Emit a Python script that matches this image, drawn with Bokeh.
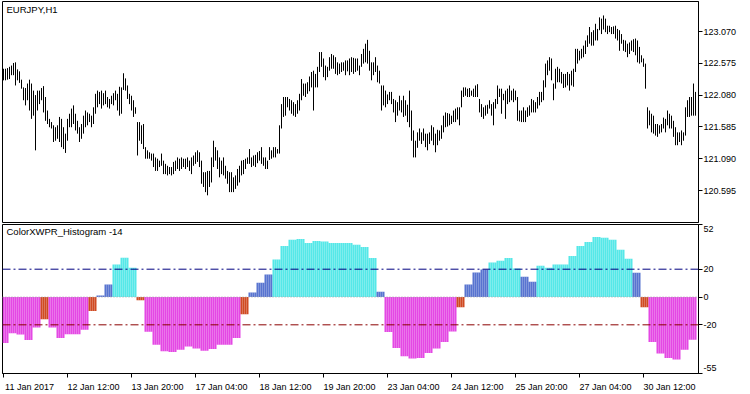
import numpy as np
from bokeh.plotting import figure
from bokeh.layouts import column
from bokeh.models import ColumnDataSource, FixedTicker, Span, Label, Range1d, PrintfTickFormatter
from bokeh.embed import file_html
from bokeh.resources import INLINE

# ---------------- data ----------------
price_high = [
    122.49,122.49,122.50,122.52,122.54,122.58,122.59,122.48,122.45,122.32,
    122.20,122.19,122.26,122.32,122.26,122.15,122.08,122.15,122.15,122.19,
    122.22,122.05,121.84,121.71,121.66,121.61,121.58,121.61,121.74,121.71,
    121.58,121.48,121.71,121.79,121.87,121.92,121.79,121.68,121.58,121.63,
    121.76,121.84,121.81,121.79,121.76,121.89,122.10,122.15,122.13,122.15,
    122.11,122.15,122.05,122.02,122.07,122.11,122.15,122.10,122.21,122.20,
    122.42,122.34,122.23,122.10,122.07,122.00,121.89,121.66,121.66,121.61,
    121.63,121.27,121.22,121.19,121.17,121.17,121.11,121.09,121.06,121.17,
    121.06,121.01,120.98,120.96,120.96,121.04,121.06,121.11,121.09,121.11,
    121.09,121.09,121.11,121.06,121.11,121.14,121.19,121.22,121.19,121.06,
    120.88,120.88,120.90,120.90,121.11,121.37,121.27,121.22,121.11,121.06,
    121.11,120.98,120.90,120.88,120.88,120.80,120.83,120.93,120.98,121.06,
    121.07,121.09,121.11,121.24,121.11,121.14,121.15,121.19,121.21,121.27,
    121.11,121.11,121.06,121.27,121.22,121.27,121.27,121.24,121.61,121.94,
    122.05,122.05,122.05,122.02,122.00,121.97,121.94,122.00,122.10,122.33,
    122.26,122.26,122.28,122.37,122.44,122.46,122.41,122.52,122.75,122.75,
    122.65,122.54,122.52,122.67,122.72,122.70,122.67,122.59,122.57,122.59,
    122.59,122.62,122.62,122.65,122.67,122.66,122.65,122.65,122.54,122.72,
    122.80,122.88,122.94,122.77,122.59,122.59,122.67,122.54,122.46,122.23,
    122.23,122.15,122.09,122.13,122.13,122.02,122.00,121.97,122.07,122.00,
    122.07,122.00,121.93,122.15,121.84,121.53,121.37,121.50,121.56,121.50,
    121.56,121.48,121.48,121.50,121.61,121.58,121.48,121.54,121.53,121.61,
    121.76,121.81,121.80,121.79,121.76,121.84,121.87,121.89,121.89,122.15,
    122.20,122.20,122.18,122.19,122.15,122.18,122.23,122.25,122.02,121.94,
    121.89,121.92,121.93,122.00,121.94,121.97,122.02,122.23,122.18,122.18,
    122.10,122.15,122.18,122.23,122.15,122.18,122.15,122.05,121.84,121.84,
    121.89,121.84,121.89,121.92,122.02,122.00,121.97,122.05,122.13,122.13,
    122.31,122.57,122.62,122.67,122.65,122.26,122.49,122.52,122.49,122.44,
    122.41,122.41,122.44,122.41,122.46,122.49,122.80,122.80,122.77,122.80,
    122.85,122.93,123.01,123.14,123.06,123.09,123.19,123.11,123.29,123.27,
    123.32,123.27,123.16,123.16,123.14,123.15,123.16,123.11,123.09,123.03,
    122.94,122.93,122.88,122.90,122.93,122.95,122.96,122.93,122.83,122.70,
    122.65,122.57,121.89,121.84,121.79,121.76,121.63,121.63,121.61,121.63,
    121.73,121.71,121.84,121.79,121.76,121.68,121.58,121.50,121.50,121.53,
    121.50,121.89,122.00,122.05,122.05,122.26,122.13,
]
price_low = [
    122.31,122.31,122.32,122.33,122.39,122.39,122.23,122.31,122.27,122.18,
    122.00,121.92,122.00,121.84,121.71,121.76,121.22,121.84,121.94,122.00,
    121.81,121.68,121.63,121.58,121.56,121.35,121.37,121.40,121.35,121.27,
    121.24,121.18,121.37,121.58,121.58,121.63,121.53,121.48,121.35,121.40,
    121.48,121.58,121.61,121.66,121.58,121.63,121.79,121.89,121.94,121.87,
    121.92,121.94,121.89,121.87,121.94,121.92,122.00,121.84,121.76,121.79,
    122.16,122.15,122.02,121.94,121.84,121.74,121.79,121.14,121.37,121.32,
    121.24,121.09,121.09,121.09,121.06,120.96,120.90,120.90,120.96,120.98,
    120.85,120.85,120.83,120.85,120.83,120.85,120.90,120.93,120.90,120.93,
    120.96,120.93,120.96,120.90,120.85,120.98,121.01,121.04,120.96,120.70,
    120.65,120.57,120.52,120.65,120.72,120.96,121.06,120.93,120.80,120.85,
    120.83,120.78,120.70,120.57,120.57,120.57,120.62,120.67,120.72,120.83,
    120.85,120.93,121.01,121.01,120.96,120.98,120.96,121.02,121.06,121.01,
    120.98,120.93,120.93,121.07,121.09,121.11,121.11,121.17,121.17,121.56,
    121.74,121.76,121.89,121.84,121.79,121.76,121.74,121.79,121.84,122.00,
    122.07,122.05,122.10,122.14,122.20,121.84,122.20,122.20,122.44,122.52,
    122.36,122.31,122.36,122.46,122.49,122.49,122.41,122.39,122.41,122.44,
    122.46,122.39,122.45,122.39,122.44,122.41,122.44,122.46,122.39,122.52,
    122.57,122.59,122.57,122.46,122.31,122.39,122.44,122.28,122.26,121.84,
    121.92,121.89,121.94,122.00,121.94,121.81,121.66,121.76,121.84,121.81,
    121.74,121.76,121.66,121.58,121.37,121.11,121.11,121.26,121.37,121.32,
    121.37,121.27,121.22,121.32,121.37,121.30,121.19,121.30,121.37,121.40,
    121.50,121.58,121.59,121.61,121.63,121.66,121.66,121.70,121.61,121.89,
    122.05,122.07,122.05,122.05,122.07,122.05,122.05,122.05,121.81,121.74,
    121.71,121.76,121.79,121.87,121.76,121.61,121.87,121.94,122.05,121.79,
    122.00,121.71,121.94,121.97,122.00,121.97,122.00,121.68,121.67,121.66,
    121.66,121.66,121.74,121.76,121.81,121.81,121.81,121.87,121.92,121.97,
    122.00,122.20,122.39,122.46,122.31,122.00,122.18,122.28,122.28,122.26,
    122.19,122.20,122.23,122.15,122.23,122.21,122.44,122.57,122.62,122.65,
    122.67,122.72,122.83,122.88,122.85,122.85,122.93,122.93,123.09,123.03,
    123.10,123.06,123.03,123.06,123.03,123.03,122.96,122.93,122.77,122.88,
    122.77,122.75,122.67,122.72,122.77,122.75,122.70,122.59,122.57,122.59,
    122.52,122.18,121.56,121.61,121.50,121.48,121.45,121.43,121.48,121.50,
    121.56,121.50,121.61,121.56,121.56,121.43,121.30,121.30,121.35,121.30,
    121.37,121.45,121.74,121.74,121.76,121.76,121.76,
]
# ColorXWPR histogram value for each 4-hour block (first block is partial: 3 bars)
xwpr_blocks = [
    -33, -26, -27, -31, -22, -16, -22, -29.5, -26.7, -26.7,
    -23.6, -10, 1, 9, 23.3, 28.3, 21, -2.4, -25, -34.3,
    -39, -39.5, -37.9, -35.5, -37, -38.6, -37.4, -34.3, -34.3, -29.5,
    -12.4, 3.3, 10.2, 16.2, 26.9, 36.7, 41.2, 41.7, 38.8, 40.2,
    40, 38.8, 38.8, 38.8, 37.6, 36, 28.1, 3.8, -25.2, -36.7,
    -42.6, -44.3, -43.8, -40.2, -37.1, -32.4, -24.8, -7.4, 9, 17.6,
    19.8, 24.8, 26, 28.1, 20.5, 14.5, 11, 22.4, 21, 23.3,
    23.3, 29.5, 36.7, 39.5, 43.1, 42.6, 41.2, 34, 27.6, 17.4,
    -7.4, -32.4, -40.7, -43.8, -45, -37.9, -30.7,
]
price_ticks = [120.595, 121.090, 121.585, 122.080, 122.575, 123.070]
hist_ticks = [52, 20, 0, -20, -55]
hist_tick_labels = ["52", "20", "0", "-20", "-55"]
date_tick_bars = [0, 32, 64, 96, 128, 160, 192, 224, 256, 288, 320]
date_tick_labels = ["11 Jan 2017", "12 Jan 12:00", "13 Jan 20:00", "17 Jan 04:00",
                    "18 Jan 12:00", "19 Jan 20:00", "23 Jan 04:00", "24 Jan 12:00",
                    "25 Jan 20:00", "27 Jan 04:00", "30 Jan 12:00"]
upper_level = 20
lower_level = -20

n = len(price_high)
assert len(price_low) == n
bars = list(range(n))
hist = [xwpr_blocks[(i + 1) // 4] for i in bars]

C_UP2, C_UP1, C_DN1, C_DN2 = "#55E8E8", "#5874D0", "#D04A22", "#E448E4"
def col(v):
    if v > upper_level:
        return C_UP2
    if v > 0:
        return C_UP1
    if v > lower_level:
        return C_DN1
    return C_DN2
hist_colors = [col(v) for v in hist]

FONT = "Liberation Sans"

price_src = ColumnDataSource(dict(x=bars, high=price_high, low=price_low))
hist_src = ColumnDataSource(dict(x=bars, v=hist, color=hist_colors))

xr = Range1d(-0.5, n + 0.5)

# ---------------- price panel ----------------
p1 = figure(width=750, height=223, x_range=xr, y_range=Range1d(120.097, 123.537),
            output_backend="svg", toolbar_location=None,
            x_axis_location=None, y_axis_location="right",
            min_border_left=2, min_border_right=52, min_border_top=1, min_border_bottom=1)
p1.segment(x0="x", y0="low", x1="x", y1="high", source=price_src,
           line_color="black", line_width=1)
p1.grid.visible = False
p1.outline_line_color = "black"
p1.outline_line_width = 1
p1.outline_line_alpha = 1
ya = p1.yaxis[0]
ya.ticker = FixedTicker(ticks=price_ticks)
ya.formatter = PrintfTickFormatter(format="%.3f")
ya.major_tick_out = 4
ya.major_tick_in = 0
ya.minor_tick_line_color = None
ya.major_label_standoff = 1
ya.major_label_text_font = FONT
ya.major_label_text_font_size = "9px"
ya.major_label_text_color = "black"
ya.axis_line_color = "black"
p1.add_layout(Label(x=4, y=219, x_units="screen", y_units="screen", text="EURJPY,H1",
                    text_font=FONT, text_font_size="9.5px", text_baseline="top",
                    text_color="black"))

# ---------------- histogram panel ----------------
p2 = figure(width=750, height=171, x_range=xr, y_range=Range1d(-55, 52.143),
            output_backend="svg", toolbar_location=None,
            x_axis_location="below", y_axis_location="right",
            min_border_left=2, min_border_right=52, min_border_top=1, min_border_bottom=20)
p2.grid.visible = False
p2.outline_line_color = "black"
p2.outline_line_alpha = 1
p2.add_layout(Span(location=0, dimension="width", line_color="#A8A8A8",
                   line_width=1, line_dash="1 2"))
p2.vbar(x="x", top="v", bottom=0, width=1.0, fill_color="color",
        line_color=None, source=hist_src)
p2.add_layout(Span(location=upper_level, dimension="width", line_color="#000080",
                   line_width=1, line_dash="8 3 2 3"))
p2.add_layout(Span(location=lower_level, dimension="width", line_color="#8B0000",
                   line_width=1, line_dash="8 3 2 3"))

# right axis: labels for edge values pulled inside, ticks at true positions
hy = p2.yaxis[0]
label_pos = [49, 20, 0, -20, -51]
hy.ticker = FixedTicker(ticks=label_pos, minor_ticks=hist_ticks)
hy.major_label_overrides = {p: t for p, t in zip(label_pos, hist_tick_labels)}
hy.major_tick_line_color = None
hy.major_tick_out = 4
hy.major_tick_in = 0
hy.minor_tick_line_color = "black"
hy.minor_tick_out = 4
hy.minor_tick_in = 0
hy.major_label_standoff = 1
hy.major_label_text_font = FONT
hy.major_label_text_font_size = "9px"
hy.major_label_text_color = "black"

# bottom axis: labels start at their tick (MetaTrader style)
hx = p2.xaxis[0]
lab_pos = [b + 13 for b in date_tick_bars]
hx.ticker = FixedTicker(ticks=lab_pos, minor_ticks=date_tick_bars)
hx.major_label_overrides = {p: t for p, t in zip(lab_pos, date_tick_labels)}
hx.major_tick_line_color = None
hx.major_tick_out = 0
hx.major_tick_in = 0
hx.minor_tick_line_color = "black"
hx.minor_tick_out = 4
hx.minor_tick_in = 0
hx.major_label_standoff = 4
hx.major_label_text_font = FONT
hx.major_label_text_font_size = "9px"
hx.major_label_text_color = "black"

p2.add_layout(Label(x=4, y=148, x_units="screen", y_units="screen",
                    text="ColorXWPR_Histogram -14", text_font=FONT,
                    text_font_size="9.5px", text_baseline="top", text_color="black"))

layout = column(p1, p2, spacing=0)
open("out.html", "w").write(file_html(layout, INLINE))
